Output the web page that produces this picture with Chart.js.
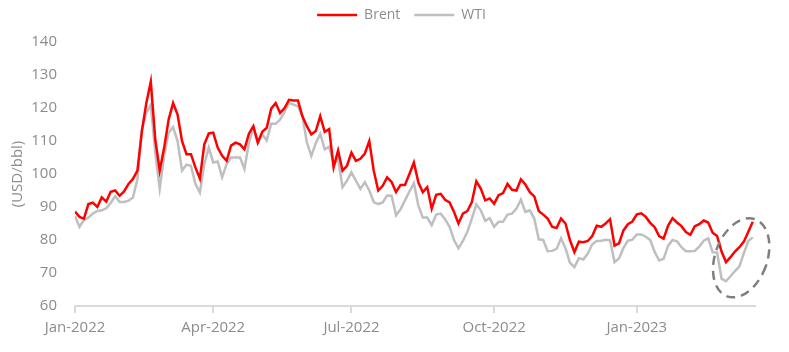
<!DOCTYPE html>
<html>
<head>
<meta charset="utf-8">
<script src="https://cdn.jsdelivr.net/npm/chart.js@4.4.1/dist/chart.umd.min.js"></script>
<style>
  html, body { margin: 0; padding: 0; background: #fff; }
</style>
</head>
<body>
<canvas id="oilChart" width="789" height="352"></canvas>
<script>
// Data
// one value every second trading day, late Jan 2022 -> early Apr 2023 (USD/bbl)
//==============================

var brent = [
  88.6, 87.0, 86.5, 90.9, 91.3, 90.0, 92.9, 91.6, 94.6, 95.0,
  93.4, 94.7, 97.0, 98.5, 101.0, 113.0, 121.5, 128.0, 110.5, 101.0,
  108.0, 116.5, 121.5, 118.0, 110.0, 106.0, 106.0, 102.0, 98.6, 109.0,
  112.3, 112.5, 108.0, 105.5, 104.0, 108.6, 109.5, 109.0, 107.5, 112.2,
  114.5, 109.5, 112.8, 114.0, 119.8, 121.5, 118.5, 120.0, 122.5, 122.3,
  122.3, 117.5, 114.5, 112.0, 113.0, 117.5, 112.8, 113.6, 102.0, 107.1,
  101.0, 102.5, 106.5, 104.0, 104.6, 106.2, 110.0, 101.0, 95.0, 96.4,
  99.0, 97.6, 94.5, 96.7, 96.7, 100.0, 103.5, 97.5, 94.5, 96.0,
  89.5, 93.7, 94.0, 92.2, 91.4, 88.5, 85.0, 88.0, 88.8, 91.5,
  97.8, 95.6, 92.0, 92.6, 91.0, 93.6, 94.2, 97.0, 95.2, 95.0,
  98.4, 96.8, 94.5, 93.2, 88.8, 87.7, 86.5, 84.0, 83.6, 86.5,
  85.0, 80.0, 76.3, 79.5, 79.3, 79.7, 81.2, 84.3, 84.0, 85.0,
  86.3, 78.3, 79.0, 82.9, 84.8, 85.6, 87.8, 88.1, 87.0, 85.2,
  83.9, 81.2, 80.4, 84.3, 86.6, 85.3, 84.2, 82.4, 81.6, 84.2,
  84.8, 85.9, 85.3, 82.2, 81.2, 76.5, 73.3, 74.8, 76.5, 77.8,
  79.5, 82.5, 85.5
];

var wti = [
  87.3, 84.0, 86.0, 86.8, 88.0, 88.8, 89.0, 89.6, 91.2, 93.3,
  91.5, 91.5, 91.9, 92.9, 98.5, 113.5, 118.5, 121.0, 106.5, 95.5,
  105.5, 112.5, 114.2, 110.0, 101.0, 102.8, 102.5, 97.0, 94.4, 103.0,
  108.0, 103.5, 103.8, 99.0, 103.0, 105.0, 105.0, 105.0, 101.5, 109.5,
  114.0, 109.5, 112.0, 110.2, 115.2, 115.2, 116.5, 118.8, 121.5, 121.0,
  120.5, 117.5, 109.6, 105.5, 109.3, 112.2, 107.5, 108.3, 103.0, 104.5,
  96.0, 98.0, 100.5, 98.0, 95.5, 97.5, 95.0, 91.5, 90.9, 91.4,
  93.5, 93.4, 87.5, 89.3, 92.0, 94.7, 97.2, 90.5, 86.8, 86.8,
  84.5, 87.7, 88.0, 86.3, 84.0, 80.0, 77.5, 79.7, 82.5, 86.5,
  90.8, 89.0, 85.8, 86.6, 84.0, 85.5, 85.5, 87.7, 88.0, 89.5,
  92.2, 88.5, 89.0, 86.5, 80.2, 80.0, 76.6, 76.7, 77.3, 80.5,
  77.5, 73.1, 71.8, 74.5, 74.1, 75.9, 78.7, 79.7, 79.8, 80.1,
  79.9, 73.3, 74.4, 77.6, 79.8, 80.1, 81.7, 81.7, 81.0, 80.0,
  76.4, 73.8, 74.3, 78.2, 80.0, 79.6, 77.8, 76.6, 76.6, 76.7,
  78.0, 79.8, 80.5, 76.3, 76.2, 68.3, 67.5, 69.0, 70.6, 72.0,
  76.0, 79.7, 80.8
];

// quarter labels on the x axis and the sample they sit on
var tickLabels = ["Jan-2022", "Apr-2022", "Jul-2022", "Oct-2022", "Jan-2023"];
var tickIndex = [0, 31, 62, 94, 126];

// the March 2023 dip that gets circled
var circled = { index: 149.4, value: 74.6 };

var gray = "#8c8c8c";
var font = "'Open Sans', 'DejaVu Sans', sans-serif";

function toPoints(arr) {
  return arr.map(function (v, i) {
    return { x: i, y: v };
  });
}

// Plugins
//==============================

// nudges the legend so it sits where the original one is
var legendNudge = {
  id: "legendNudge",
  afterLayout: function (chart) {
    var lg = chart.legend;
    lg.left += 24;
    lg.right += 24;
    lg.top -= 10;
    lg.bottom -= 10;
  }
};

// dashed ellipse round the last dip
var dipCircle = {
  id: "dipCircle",
  afterDatasetsDraw: function (chart) {
    var ctx = chart.ctx;
    var cx = chart.scales.x.getPixelForValue(circled.index);
    var cy = chart.scales.y.getPixelForValue(circled.value);
    ctx.save();
    ctx.strokeStyle = "#7f7f7f";
    ctx.lineWidth = 2.5;
    ctx.setLineDash([9, 6]);
    ctx.beginPath();
    ctx.ellipse(cx, cy, 26, 41, 20 * Math.PI / 180, 0, Math.PI * 2);
    ctx.stroke();
    ctx.restore();
  }
};

// Chart
//==============================

var ctx = document.getElementById("oilChart");
var oilChart = new Chart(ctx, {
  type: "line",
  data: {
    datasets: [{
      label: "Brent",
      data: toPoints(brent),
      borderColor: "#ff0000",
      backgroundColor: "#ff0000",
      borderWidth: 2.5,
      pointRadius: 0,
      pointStyle: "line",
      tension: 0
    }, {
      label: "WTI",
      data: toPoints(wti),
      borderColor: "#bfbfbf",
      backgroundColor: "#bfbfbf",
      borderWidth: 2.5,
      pointRadius: 0,
      pointStyle: "line",
      tension: 0
    }]
  },
  options: {
    responsive: false,
    devicePixelRatio: 1,
    animation: false,
    layout: {
      padding: { top: 4, right: 34, bottom: 9, left: 0 }
    },
    plugins: {
      tooltip: { enabled: false },
      legend: {
        position: "top",
        labels: {
          usePointStyle: true,
          pointStyleWidth: 40,
          padding: 14,
          color: gray,
          font: { family: font, size: 14 }
        }
      }
    },
    scales: {
      x: {
        type: "linear",
        min: 0,
        max: 152.5,
        afterBuildTicks: function (scale) {
          scale.ticks = tickIndex.map(function (v) {
            return { value: v };
          });
        },
        ticks: {
          autoSkip: false,
          maxRotation: 0,
          padding: 6,
          color: gray,
          font: { family: font, size: 15 },
          callback: function (value) {
            var i = tickIndex.indexOf(value);
            return i >= 0 ? tickLabels[i] : "";
          }
        },
        grid: {
          drawOnChartArea: false,
          drawTicks: true,
          tickLength: 7,
          color: "#d9d9d9",
          lineWidth: 2
        },
        border: { display: true, color: "#d9d9d9", width: 2 }
      },
      y: {
        min: 60,
        max: 140,
        afterFit: function (scale) {
          scale.width = 75;
        },
        ticks: {
          stepSize: 10,
          padding: 18,
          color: gray,
          font: { family: font, size: 15 }
        },
        grid: { display: false, drawTicks: false },
        border: { display: false },
        title: {
          display: true,
          text: "(USD/bbl)",
          color: gray,
          padding: { top: 9, bottom: 0 },
          font: { family: font, size: 15 }
        }
      }
    }
  },
  plugins: [legendNudge, dipCircle]
});
</script>
</body>
</html>
